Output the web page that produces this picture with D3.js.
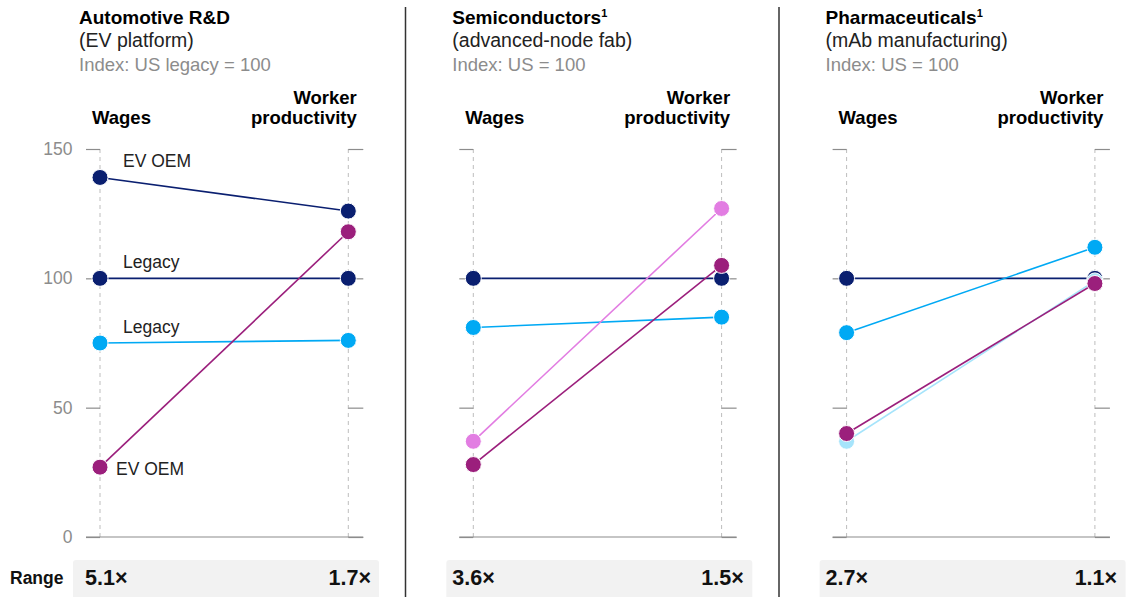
<!DOCTYPE html>
<html>
<head>
<meta charset="utf-8">
<script src="https://cdn.jsdelivr.net/npm/d3@7"></script>
<style>
  html, body { margin: 0; padding: 0; background: #fff; }
  svg { display: block; font-family: "Liberation Sans", Arial, sans-serif; }
</style>
</head>
<body>
<svg id="chart" width="1129" height="597"></svg>
<script>
// ---- data ----
const panelTitles = ["Automotive R&D", "Semiconductors", "Pharmaceuticals"];
const panelNotes = ["", "1", "1"];
const panelSubtitles = ["(EV platform)", "(advanced-node fab)", "(mAb manufacturing)"];
const panelIndexes = ["Index: US legacy = 100", "Index: US = 100", "Index: US = 100"];
const columnNames = ["Wages", "Worker productivity"];
const yTicks = [0, 50, 100, 150];

const autoWages = [139, 100, 75, 27];
const autoProductivity = [126, 100, 76, 118];
const autoLabels = ["EV OEM", "Legacy", "Legacy", "EV OEM"];

const semiWages = [100, 81, 37, 28];
const semiProductivity = [100, 85, 127, 105];

const pharmaWages = [100, 79, 37, 40];
const pharmaProductivity = [100, 112, 99, 98];

const rangeWages = ["5.1×", "3.6×", "2.7×"];
const rangeProductivity = ["1.7×", "1.5×", "1.1×"];

// ---- styles ----
const palette = {
  navy: "#0a1f70",
  sky: "#00a9f4",
  plum: "#9b1f7c",
  orchid: "#e27de2",
  ice: "#a6e4fb"
};
const panelColors = [
  ["navy", "navy", "sky", "plum"],
  ["navy", "sky", "orchid", "plum"],
  ["navy", "sky", "ice", "plum"]
];
const labelSide = ["above", "above", "above", "right"];

const panels = [
  { wages: autoWages, prod: autoProductivity, labels: autoLabels },
  { wages: semiWages, prod: semiProductivity, labels: [] },
  { wages: pharmaWages, prod: pharmaProductivity, labels: [] }
];

const svg = d3.select("#chart");
const y = d3.scaleLinear().domain([0, 150]).range([537, 149]);
const panelStep = 373.3;
const colGap = 248.3;

// dividers between panels
[405.5, 779].forEach(x => {
  svg.append("line")
    .attr("x1", x).attr("x2", x).attr("y1", 7).attr("y2", 597)
    .attr("stroke", "#333").attr("stroke-width", 1.5);
});

// row label for the range strip
svg.append("text")
  .attr("x", 10).attr("y", 584)
  .attr("font-size", 17.5).attr("font-weight", 700).attr("fill", "#111")
  .text("Range");

panels.forEach((p, i) => {
  const x0 = 100 + i * panelStep;
  const x1 = x0 + colGap;
  const g = svg.append("g");
  const x = d3.scalePoint().domain(columnNames).range([x0, x1]);

  // titles
  const t = g.append("text")
    .attr("x", x0 - 21).attr("y", 23.5)
    .attr("font-size", 19).attr("font-weight", 700).attr("fill", "#000");
  t.append("tspan").text(panelTitles[i]);
  if (panelNotes[i]) {
    t.append("tspan").attr("font-size", 11).attr("dy", -7).text(panelNotes[i]);
  }
  g.append("text")
    .attr("x", x0 - 21).attr("y", 47)
    .attr("font-size", 19.5).attr("fill", "#222")
    .text(panelSubtitles[i]);
  g.append("text")
    .attr("x", x0 - 21).attr("y", 71)
    .attr("font-size", 18.5).attr("fill", "#8c8c8c")
    .text(panelIndexes[i]);

  // column headers
  g.append("text")
    .attr("x", x(columnNames[0]) - 8).attr("y", 123.5)
    .attr("font-size", 18.5).attr("font-weight", 700).attr("fill", "#000")
    .text(columnNames[0]);
  const words = columnNames[1].split(" ");
  words.forEach((w, k) => {
    g.append("text")
      .attr("x", x(columnNames[1]) + 8.5).attr("y", 104 + k * 20)
      .attr("text-anchor", "end")
      .attr("font-size", 18.5).attr("font-weight", 700).attr("fill", "#000")
      .text(w);
  });

  // dashed column guides
  columnNames.forEach(c => {
    g.append("line")
      .attr("x1", x(c)).attr("x2", x(c))
      .attr("y1", y(150)).attr("y2", y(0))
      .attr("stroke", "#bdbdbd").attr("stroke-width", 1)
      .attr("stroke-dasharray", "4,4");
  });

  // outer tick marks
  const leftAxis = d3.axisLeft(y).tickValues(yTicks).tickSize(14).tickPadding(13.5)
    .tickFormat(i === 0 ? d3.format("d") : () => "");
  const la = g.append("g").attr("transform", `translate(${x0},0)`).call(leftAxis);
  la.select(".domain").remove();
  la.selectAll(".tick line").attr("stroke", "#8c8c8c").attr("stroke-width", 1.2);
  la.selectAll(".tick text")
    .attr("font-size", 17.5).attr("fill", "#8c8c8c")
    .attr("font-family", "'Liberation Sans', Arial, sans-serif");

  const rightAxis = d3.axisRight(y).tickValues(yTicks).tickSize(15).tickFormat(() => "");
  const ra = g.append("g").attr("transform", `translate(${x1},0)`).call(rightAxis);
  ra.select(".domain").remove();
  ra.selectAll(".tick line").attr("stroke", "#8c8c8c").attr("stroke-width", 1.2);

  // zero baseline
  g.append("line")
    .attr("x1", x0 - 14).attr("x2", x1 + 15)
    .attr("y1", y(0)).attr("y2", y(0))
    .attr("stroke", "#8c8c8c").attr("stroke-width", 1.2);

  // slope lines and dots
  p.wages.forEach((w, s) => {
    const col = palette[panelColors[i][s]];
    const pts = [[columnNames[0], w], [columnNames[1], p.prod[s]]];
    g.append("path")
      .attr("d", d3.line().x(d => x(d[0])).y(d => y(d[1]))(pts))
      .attr("fill", "none").attr("stroke", col).attr("stroke-width", 1.6);
    g.selectAll(null).data(pts).enter().append("circle")
      .attr("cx", d => x(d[0])).attr("cy", d => y(d[1]))
      .attr("r", 8).attr("fill", col)
      .attr("stroke", "#fff").attr("stroke-width", 1);
  });

  // series labels
  p.labels.forEach((lab, s) => {
    const side = labelSide[s];
    g.append("text")
      .attr("x", x(columnNames[0]) + (side === "above" ? 23 : 16))
      .attr("y", y(p.wages[s]) + (side === "above" ? -10.5 : 8))
      .attr("font-size", 17.5).attr("fill", "#222")
      .text(lab);
  });

  // range strip
  const rx0 = x0 - 27;
  const rx1 = x1 + 30.7;
  g.append("rect")
    .attr("x", rx0).attr("y", 560)
    .attr("width", rx1 - rx0).attr("height", 42)
    .attr("rx", 3).attr("fill", "#f2f2f2");
  g.append("text")
    .attr("x", rx0 + (i === 0 ? 12 : 6)).attr("y", 585)
    .attr("font-size", 21.5).attr("font-weight", 700).attr("fill", "#111")
    .text(rangeWages[i]);
  g.append("text")
    .attr("x", rx1 - (i === 0 ? 8 : 8.5)).attr("y", 585)
    .attr("text-anchor", "end")
    .attr("font-size", 21.5).attr("font-weight", 700).attr("fill", "#111")
    .text(rangeProductivity[i]);
});
</script>
</body>
</html>
